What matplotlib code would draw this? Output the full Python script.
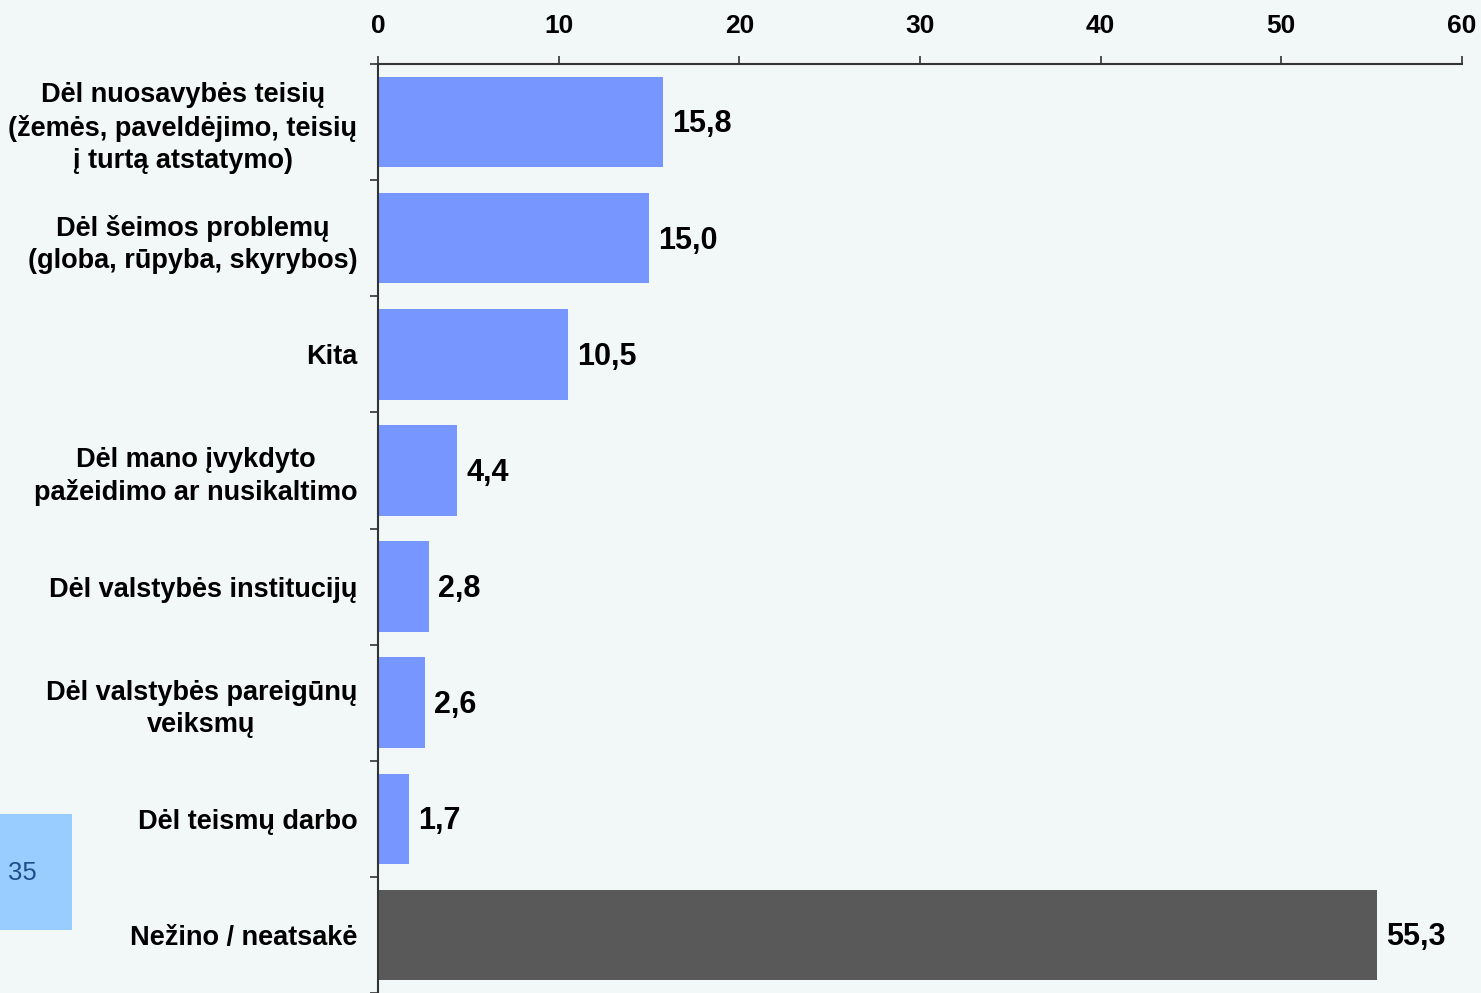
import matplotlib.pyplot as plt
import numpy as np
from matplotlib.patches import Rectangle

plt.rcParams['font.family'] = ['Liberation Sans', 'DejaVu Sans']

# data
categories = [
    "Dėl nuosavybės teisių\n(žemės, paveldėjimo, teisių\nį turtą atstatymo)",
    "Dėl šeimos problemų\n(globa, rūpyba, skyrybos)",
    "Kita",
    "Dėl mano įvykdyto\npažeidimo ar nusikaltimo",
    "Dėl valstybės institucijų",
    "Dėl valstybės pareigūnų\nveiksmų",
    "Dėl teismų darbo",
    "Nežino / neatsakė",
]
values = [15.8, 15.0, 10.5, 4.4, 2.8, 2.6, 1.7, 55.3]
x_ticks = [0, 10, 20, 30, 40, 50, 60]
page_number = "35"

bg = '#F2F8F8'
bar_colors = ['#7896FF'] * 7 + ['#595959']

fig = plt.figure(figsize=(14.81, 9.93), dpi=100, facecolor=bg)
ax = fig.add_axes([378 / 1481, 0, 1084 / 1481, (993 - 64) / 993])
ax.set_facecolor(bg)

y = np.arange(len(categories))
ax.barh(y, values, height=0.78, color=bar_colors, zorder=2)

for yi, v in zip(y, values):
    ax.text(v + 0.5, yi + 0.02, f"{v:.1f}".replace('.', ','), va='center', ha='left',
            fontsize=22, fontweight='bold', color='black')

ax.set_xlim(0, 60)
ax.set_ylim(len(categories) - 0.5, -0.5)

ax.xaxis.tick_top()
ax.set_xticks(x_ticks)
ax.set_xticklabels([str(t) for t in x_ticks], fontsize=19, fontweight='bold')
ax.tick_params(axis='x', direction='out', length=6, width=1.2, pad=13, color='#333333')

ax.set_yticks(y)
ax.set_yticklabels(categories, fontsize=19.5, fontweight='bold', ha='right',
                   multialignment='center', linespacing=1.3)
ax.tick_params(axis='y', which='major', length=0, pad=15)
ax.set_yticks(np.arange(-0.5, len(categories), 1.0), minor=True)
ax.tick_params(axis='y', which='minor', direction='out', length=6, width=1.2, color='#333333')

for side in ['right', 'bottom']:
    ax.spines[side].set_visible(False)
for side in ['left', 'top']:
    ax.spines[side].set_linewidth(1.5)
    ax.spines[side].set_color('#333333')

# page number box
fig.patches.append(Rectangle((0, (993 - 930) / 993), 72 / 1481, 116 / 993,
                             transform=fig.transFigure, facecolor='#99CCFF',
                             edgecolor='none', zorder=0))
fig.text(8 / 1481, 1 - 873 / 993, page_number, fontsize=18.5, color='#1F4E8C',
         va='center', ha='left')

plt.savefig('out.png', dpi=100, facecolor=bg)
